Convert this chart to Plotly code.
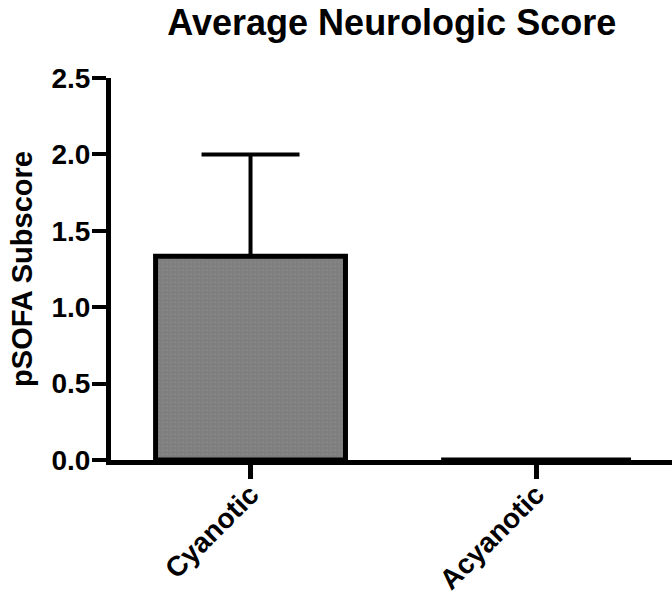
import plotly.graph_objects as go

categories = ["Cyanotic", "Acyanotic"]
means = [1.333, 0.0]
err_plus = [0.667, 0.0]
y_ticks = [0.0, 0.5, 1.0, 1.5, 2.0, 2.5]
y_tick_labels = ["0.0", "0.5", "1.0", "1.5", "2.0", "2.5"]

xpos = list(range(len(categories)))

fig = go.Figure()
fig.add_trace(go.Bar(
    x=xpos, y=means, width=0.665,
    marker=dict(color="white", line=dict(color="black", width=5),
                pattern=dict(shape=".", fgcolor="black", bgcolor="white", size=4, solidity=0.9, fillmode="overlay")),
    error_y=dict(type="data", symmetric=False, array=err_plus, arrayminus=[0, 0],
                 color="black", thickness=4, width=49),
    showlegend=False,
))

font_family = "Liberation Sans, Arial, sans-serif"
fig.update_layout(
    width=672, height=597,
    margin=dict(l=111, r=0, t=78, b=137),
    paper_bgcolor="white", plot_bgcolor="white",
    title=dict(text="<b>Average Neurologic Score</b>", x=0.583, xanchor="center", y=0.963, yanchor="middle",
               font=dict(family=font_family, size=36, color="black")),
    xaxis=dict(range=[-0.4886, 1.476], tickmode="array", tickvals=xpos, ticktext=[f"<b>{c}</b>" for c in categories],
               tickangle=-45, ticks="outside", ticklen=14, tickwidth=5, tickcolor="black", automargin=False,
               ticklabelstandoff=-12,
               showline=True, linecolor="black", linewidth=5, showgrid=False, zeroline=False,
               tickfont=dict(family=font_family, size=28, color="black")),
    yaxis=dict(range=[0, 2.5], tickmode="array", tickvals=y_ticks, ticktext=[f"<b>{t}</b>" for t in y_tick_labels],
               ticks="outside", ticklen=14, tickwidth=4, tickcolor="black", automargin=False,
               ticklabelstandoff=-4,
               showline=True, linecolor="black", linewidth=5, showgrid=False, zeroline=False,
               tickfont=dict(family=font_family, size=28, color="black"),
               title=dict(text="<b>pSOFA Subscore</b>", font=dict(family=font_family, size=29, color="black"), standoff=12)),
)

fig.write_html("out.html")
